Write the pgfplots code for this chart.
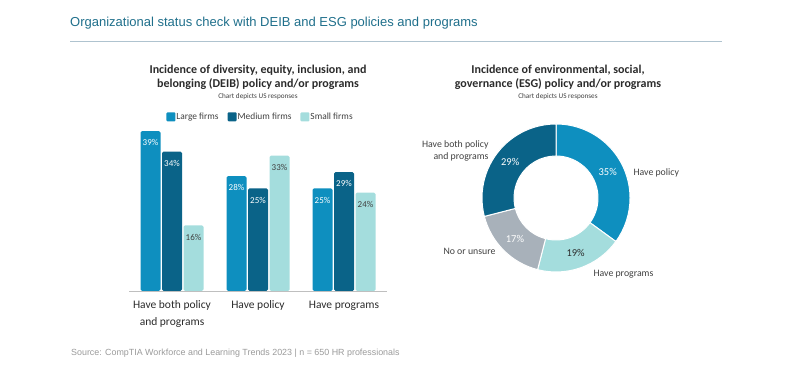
\documentclass[border=0pt]{standalone}
\usepackage{pgfplots}
\pgfplotsset{compat=1.18}
\usepackage{fontspec}
\setmainfont{Carlito}
\newfontfamily\headfont{Liberation Sans}
\newfontfamily\srcfont{Liberation Sans}
\definecolor{cLarge}{HTML}{0E8FBF}
\definecolor{cMed}{HTML}{0A6388}
\definecolor{cSmall}{HTML}{A4DDDD}
\definecolor{cGray}{HTML}{A8B1BA}
\definecolor{cHead}{HTML}{1F6F8B}
\definecolor{cRule}{HTML}{AFC3CF}
\definecolor{cTxt}{HTML}{2B2B2B}
\definecolor{cLab}{HTML}{404040}
\definecolor{cSrc}{HTML}{9A9A9A}
\newcommand\donutslice[3]{%
  \fill[#3, draw=white, line width=1pt] (axis cs:0,0) ++({90-3.6*(#1)}:74pt)
    arc[start angle={90-3.6*(#1)}, end angle={90-3.6*(#1+#2)}, radius=74pt]
    -- ++({90-3.6*(#1+#2)}:-32pt)
    arc[start angle={90-3.6*(#1+#2)}, end angle={90-3.6*(#1)}, radius=42pt] -- cycle;}
\newcommand\donutlabel[3]{%
  \path (axis cs:0,0) ++({90-3.6*(#1+#2/2)}:58pt) node[text=#3, font=\fontsize{10.5}{12}\selectfont] {#2\%};}
\begin{document}
\begin{tikzpicture}[x=1pt,y=1pt]
\path[use as bounding box] (0pt,0pt) rectangle (800pt,382pt);
% header
\node[anchor=base west, font=\headfont\fontsize{13}{15}\selectfont, text=cHead, inner sep=0] at (70pt,355pt) {Organizational status check with DEIB and ESG policies and programs};
\draw[cRule, line width=0.8pt] (70pt,341pt) -- (722pt,341pt);
% bar chart titles
\node[anchor=base, font=\bfseries\fontsize{12}{14}\selectfont, text=cTxt, inner sep=0] at (258pt,308pt) {Incidence of diversity, equity, inclusion, and};
\node[anchor=base, font=\bfseries\fontsize{12}{14}\selectfont, text=cTxt, inner sep=0] at (258pt,294pt) {belonging (DEIB) policy and/or programs};
\node[anchor=base, font=\fontsize{7.2}{8}\selectfont, text=cLab, inner sep=0] at (258pt,283pt) {Chart depicts US responses};
% donut titles
\node[anchor=base, font=\bfseries\fontsize{12}{14}\selectfont, text=cTxt, inner sep=0] at (558pt,308pt) {Incidence of environmental, social,};
\node[anchor=base, font=\bfseries\fontsize{12}{14}\selectfont, text=cTxt, inner sep=0] at (558pt,294pt) {governance (ESG) policy and/or programs};
\node[anchor=base, font=\fontsize{7.2}{8}\selectfont, text=cLab, inner sep=0] at (558pt,283pt) {Chart depicts US responses};
% source
\node[anchor=west, font=\srcfont\fontsize{8.9}{10}\selectfont, text=cSrc, inner sep=0] at (71pt,29pt) {Source: CompTIA Workforce and Learning Trends 2023 | n = 650 HR professionals};

\begin{axis}[
  at={(129pt,91pt)}, anchor=south west,
  x=86pt, y=4.1pt,
  xmin=-0.5, xmax=2.5, ymin=0, ymax=40,
  ybar=1.5pt, bar width=20pt,
  axis x line*=bottom, hide y axis,
  x axis line style={-, draw=black!25, line width=0.8pt},
  xtick={0,1,2}, xtick style={draw=none},
  xticklabels={{Have both policy\\and programs},{Have policy},{Have programs}},
  xticklabel style={align=center, font=\fontsize{11.5}{16.5}\selectfont, text=cTxt, inner sep=0pt, yshift=-5.5pt},
  /pgf/number format/assume math mode=true,
  nodes near coords={\pgfmathprintnumber{\pgfplotspointmeta}\%},
  nodes near coords align={below},
  every node near coord/.append style={font=\fontsize{9}{10}\selectfont, yshift=-5pt},
  clip=false,
  legend style={at={(0.51,1.062)}, anchor=center, draw=none, fill=none, legend columns=3,
    font=\fontsize{9.4}{11}\selectfont, text=cLab,
    /tikz/every even column/.append style={column sep=7pt},
    /tikz/every odd column/.append style={column sep=-1pt}},
  legend image code/.code={\fill[#1, rounded corners=1pt] (0pt,-4.5pt) rectangle (9pt,4.5pt);},
]
\addplot[fill=cLarge, draw=none, rounded corners=1.5pt, every node near coord/.append style={text=white}] coordinates {(0,39) (1,28) (2,25)};
\addplot[fill=cMed, draw=none, rounded corners=1.5pt, every node near coord/.append style={text=white}] coordinates {(0,34) (1,25) (2,29)};
\addplot[fill=cSmall, draw=none, rounded corners=1.5pt, every node near coord/.append style={text=cLab}] coordinates {(0,16) (1,33) (2,24)};
\legend{Large firms, Medium firms, Small firms}
\end{axis}

\begin{axis}[
  at={(476pt,104pt)}, anchor=south west,
  x=1pt, y=1pt,
  xmin=-80, xmax=80, ymin=-80, ymax=80,
  hide axis, clip=false,
]
\addplot[draw=none] coordinates {(0,0)};
\donutslice{0}{35}{cLarge}
\donutslice{35}{19}{cSmall}
\donutslice{54}{17}{cGray}
\donutslice{71}{29}{cMed}
\donutlabel{0}{35}{white}
\donutlabel{35}{19}{cTxt}
\donutlabel{54}{17}{white}
\donutlabel{71}{29}{white}
\end{axis}
% donut category labels
\node[anchor=west, font=\fontsize{9.8}{11}\selectfont, text=cLab] at (630pt,209pt) {Have policy};
\node[anchor=west, font=\fontsize{9.8}{11}\selectfont, text=cLab] at (590pt,108pt) {Have programs};
\node[anchor=east, font=\fontsize{9.8}{11}\selectfont, text=cLab] at (499pt,131pt) {No or unsure};
\node[anchor=east, align=right, font=\fontsize{9.8}{12.5}\selectfont, text=cLab] at (492pt,231pt) {Have both policy\\and programs};
\end{tikzpicture}
\end{document}
